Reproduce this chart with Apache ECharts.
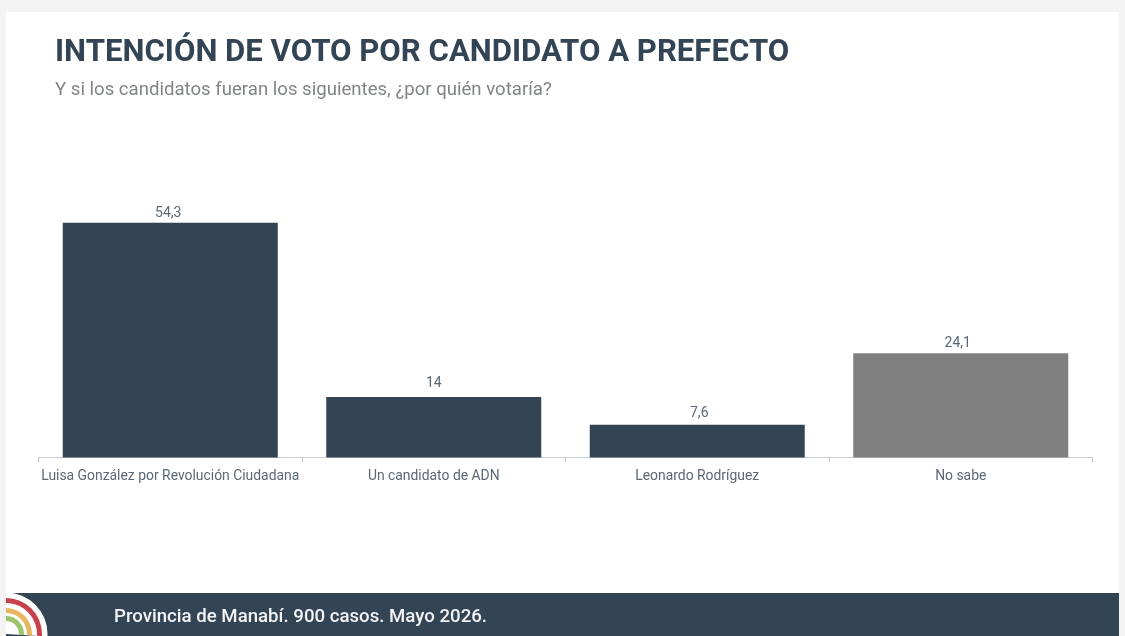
<!DOCTYPE html>
<html><head><meta charset="utf-8">
<style>html,body{margin:0;padding:0;background:#f3f3f3}#c{width:1125px;height:636px}</style>
<script src="https://cdn.jsdelivr.net/npm/echarts@6/dist/echarts.min.js"></script>
</head><body><div id="c"></div>
<script>
const categories=["Luisa González por Revolución Ciudadana","Un candidato de ADN","Leonardo Rodríguez","No sabe"];
const values=[54.3,14,7.6,24.1];
const valueLabels=["54,3","14","7,6","24,1"];
const barColors=["#334455","#334455","#334455","#808080"];
const titleText="INTENCIÓN DE VOTO POR CANDIDATO A PREFECTO";
const subtitleText="Y si los candidatos fueran los siguientes, ¿por quién votaría?";
const footerText="Provincia de Manabí. 900 casos. Mayo 2026.";
const labelNudge=[[-2,-0.5],[0,-5],[2,-2.5],[-3,-0.5]];
const chart=echarts.init(document.getElementById('c'),null,{renderer:'canvas'});
function arc(r,r0,color){return {type:'sector',z:12,shape:{cx:6,cy:634,r:r,r0:r0,startAngle:-Math.PI/2,endAngle:0.06,clockwise:true},style:{fill:color}};}
chart.setOption({
 animation:false,
 backgroundColor:'#f3f3f3',
 textStyle:{fontFamily:'Roboto'},
 grid:{left:38.5,right:32.5,top:155,bottom:178.5},
 xAxis:{type:'category',data:categories,
  axisLine:{lineStyle:{color:'#c6cbd0',width:1}},
  axisTick:{show:true,length:5,lineStyle:{color:'#c6cbd0'}},
  axisLabel:{color:'#5c6874',fontSize:13.9,fontFamily:'Roboto',margin:12,interval:0}},
 yAxis:{type:'value',min:0,max:70,show:false},
 series:[{type:'bar',barWidth:215,z:5,
  data:values.map((v,i)=>({value:v,itemStyle:{color:barColors[i]},
    label:{formatter:valueLabels[i],offset:labelNudge[i]}})),
  label:{show:true,position:'top',distance:2,color:'#5c6874',fontSize:14,fontFamily:'Roboto'}}],
 graphic:{elements:[
  {type:'rect',z:-1,silent:true,shape:{x:6,y:12,width:1113,height:624},style:{fill:'#ffffff'}},
  {type:'rect',z:10,shape:{x:6,y:593,width:1113,height:43},style:{fill:'#334455'}},
  {type:'text',z:11,left:55,top:37.5,style:{text:titleText,fill:'#334455',font:'bold 31.15px Roboto'}},
  {type:'text',z:11,left:55,top:81,style:{text:subtitleText,fill:'#808488',font:'18.6px Roboto'}},
  {type:'text',z:11,left:114,top:607.5,style:{text:footerText,fill:'#f2f4f5',font:'500 18.65px Roboto'}},
  arc(41.5,0,'#ffffff'),
  arc(36,31,'#c8404a'),
  arc(26,21,'#e8b65e'),
  arc(18,13,'#9cc46a')
 ]}
});
</script></body></html>
